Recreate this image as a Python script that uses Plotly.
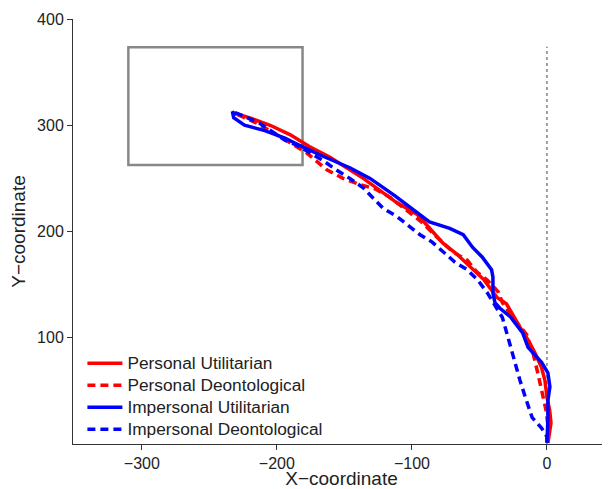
import plotly.graph_objects as go

# Personal Utilitarian (red solid)
pu_x = [-233, -220, -205, -190, -176, -161, -136, -124, -111, -96, -87, -77, -67, -57, -47, -37, -30, -20, -14, -9, -4, -1.5, 0, 2, 3, 1.5, 0.7]
pu_y = [312, 307, 300, 291, 280, 270, 250, 239, 227, 216, 203, 189, 179, 167, 155, 138, 132, 110, 98, 86, 72, 60, 44, 32, 20, 7, 1]

# Personal Deontological (red dashed)
pd_x = [-229, -215, -196, -178, -163, -151, -138, -127, -116, -109, -101, -93, -85, -70, -59, -52, -44, -36, -33, -24, -15, -10, -7, -4, -0.7, 0.7, 0.7]
pd_y = [310, 302, 288, 274, 258, 250, 244, 240, 232, 225, 218, 209, 199, 181, 173, 162, 154, 143, 133, 117, 103, 84, 68, 49, 32, 18, 1]

# Impersonal Utilitarian (blue solid)
iu_x = [-231, -233, -232, -224, -209, -194, -183, -168, -146, -131, -113, -98, -87, -72, -62, -55, -48, -41, -40, -40, -38.5, -35, -27, -18, -14, -4, 0.7, 2.2, 0.7, 0.7, 0]
iu_y = [309, 313, 307, 300, 295, 288, 281, 272, 260, 250, 234, 220, 209, 203, 197, 185, 176, 164, 157, 142, 133, 128, 119.5, 104.5, 91, 77, 67, 54, 41, 23, 1]

# Impersonal Deontological (blue dashed)
id_x = [-231, -222, -213, -194, -183, -173, -166, -156, -146, -136, -129, -121.5, -111, -101.5, -94, -85, -77, -68, -59, -51, -44, -38.5, -33, -29, -25, -20, -16, -11, -4, 0, 0]
id_y = [312, 307, 302, 286, 280, 272, 267, 258, 250, 241, 231.5, 222, 214, 204, 197, 190, 181, 171, 164, 154, 142, 131, 119, 101, 82, 60, 44, 25, 15, 7, 1]

series_names = ["Personal Utilitarian", "Personal Deontological",
                "Impersonal Utilitarian", "Impersonal Deontological"]

x_ticks = [-300, -200, -100, 0]
y_ticks = [100, 200, 300, 400]

RED = "#ff0000"
BLUE = "#0000ff"
FONT = "Liberation Sans, Arial, sans-serif"


def legend_label(name):
    return '<span style="font-size:17.3px">' + name + '</span>'


fig = go.Figure()
fig.add_trace(go.Scatter(x=pu_x, y=pu_y, mode="lines", name=legend_label(series_names[0]),
                         line=dict(color=RED, width=3.5)))
fig.add_trace(go.Scatter(x=pd_x, y=pd_y, mode="lines", name=legend_label(series_names[1]),
                         line=dict(color=RED, width=3.5, dash="8px,5px")))
fig.add_trace(go.Scatter(x=iu_x, y=iu_y, mode="lines", name=legend_label(series_names[2]),
                         line=dict(color=BLUE, width=3.5)))
fig.add_trace(go.Scatter(x=id_x, y=id_y, mode="lines", name=legend_label(series_names[3]),
                         line=dict(color=BLUE, width=3.5, dash="8px,5px")))

# start-area box
fig.add_shape(type="rect", x0=-310, x1=-181, y0=262.5, y1=373.5,
              line=dict(color="#888888", width=2.5), fillcolor="rgba(0,0,0,0)", layer="below")
# dotted reference line at x = 0
fig.add_shape(type="line", x0=0, x1=0, y0=0, y1=374,
              line=dict(color="#444444", width=1, dash="dot"), layer="below")

fig.update_layout(
    width=602, height=481,
    margin=dict(l=65, r=0, t=11, b=45),
    paper_bgcolor="white", plot_bgcolor="white",
    font=dict(family=FONT, size=16, color="#222222"),
    showlegend=True,
    legend=dict(x=0.0175, y=-0.003, xanchor="left", yanchor="bottom",
                bgcolor="rgba(255,255,255,0)", font=dict(size=14.6, color="#222222"),
                tracegroupgap=0, itemwidth=35),
    xaxis=dict(range=[-351, 46.7], tickvals=x_ticks, showgrid=False, zeroline=False,
               showline=True, linecolor="#333333", linewidth=1,
               ticks="outside", ticklen=5, tickcolor="#333333",
               title=dict(text="X\u2212coordinate", standoff=14, font=dict(size=19)),
               automargin=False),
    yaxis=dict(range=[0, 400], tickvals=y_ticks, showgrid=False, zeroline=False,
               showline=True, linecolor="#333333", linewidth=1,
               ticks="outside", ticklen=5, tickcolor="#333333",
               title=dict(text="Y\u2212coordinate", standoff=8, font=dict(size=19)),
               automargin=False),
)

fig.write_html("out.html")
